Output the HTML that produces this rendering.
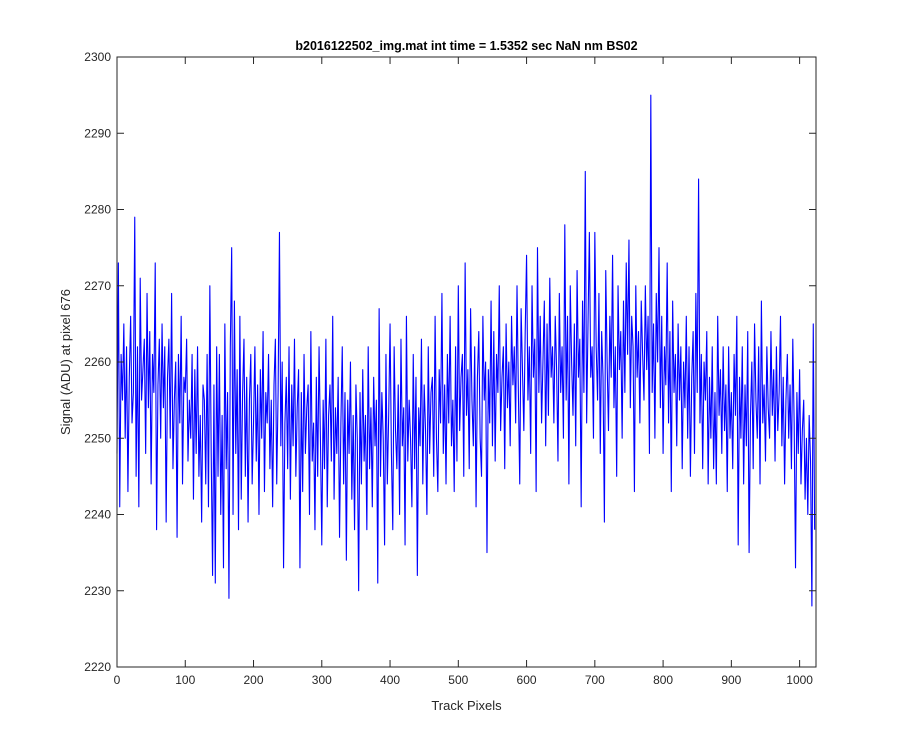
<!DOCTYPE html>
<html><head><meta charset="utf-8"><style>
body{margin:0;background:#fff;}
svg{display:block;font-family:"Liberation Sans",Arial,sans-serif;}
</style></head><body>
<svg id="chart" width="900" height="750" viewBox="0 0 900 750"></svg>
<script>
const xTicks=[0,100,200,300,400,500,600,700,800,900,1000];
const yTicks=[2220,2230,2240,2250,2260,2270,2280,2290,2300];
const xStep=2;
const signal=[
2248,2273,2241,2261,2255,2265,2250,2262,2243,2258,2266,2252,2256,2279,2245,2262,2241,2271,2255,2259,2263,2248,2269,2254,2264,2244,2261,2256,2273,2238,2257,2263,
2250,2265,2254,2262,2239,2258,2263,2250,2269,2246,2255,2260,2237,2261,2252,2266,2244,2258,2256,2263,2247,2255,2250,2261,2242,2259,2248,2262,2245,2253,2239,2257,
2255,2244,2261,2241,2270,2248,2232,2257,2231,2262,2245,2261,2240,2253,2233,2265,2246,2256,2229,2262,2275,2240,2268,2248,2259,2238,2266,2242,2256,2263,2245,2258,
2239,2255,2261,2244,2252,2262,2247,2257,2240,2259,2250,2264,2243,2256,2252,2261,2246,2255,2241,2257,2263,2244,2256,2277,2249,2260,2233,2252,2258,2246,2262,2242,
2257,2249,2263,2245,2254,2259,2233,2256,2243,2261,2248,2254,2257,2240,2264,2247,2252,2238,2258,2245,2262,2250,2236,2255,2246,2263,2241,2253,2257,2247,2266,2242,
2254,2248,2258,2237,2252,2262,2244,2256,2234,2255,2248,2260,2242,2253,2238,2257,2250,2230,2256,2244,2259,2247,2253,2238,2262,2246,2254,2241,2258,2249,2255,2231,
2267,2245,2256,2250,2236,2261,2244,2253,2265,2248,2238,2262,2251,2246,2257,2240,2263,2249,2254,2236,2266,2247,2255,2250,2241,2261,2246,2258,2232,2254,2249,2263,
2244,2257,2251,2240,2262,2248,2256,2258,2245,2266,2250,2243,2259,2252,2269,2248,2257,2244,2261,2252,2266,2249,2255,2243,2262,2247,2270,2251,2258,2261,2245,2273,
2253,2259,2246,2267,2255,2249,2262,2241,2258,2264,2250,2245,2266,2255,2260,2235,2259,2252,2268,2249,2264,2247,2261,2256,2270,2251,2258,2262,2246,2265,2254,2260,
2249,2266,2257,2262,2252,2270,2256,2244,2267,2259,2251,2264,2274,2255,2262,2248,2270,2258,2263,2243,2275,2256,2266,2252,2260,2268,2249,2265,2253,2271,2258,2262,
2252,2266,2259,2247,2269,2256,2262,2250,2278,2255,2266,2244,2270,2260,2253,2265,2249,2272,2258,2263,2241,2268,2256,2285,2252,2265,2277,2258,2262,2250,2277,2262,
2255,2269,2248,2264,2258,2239,2272,2260,2251,2266,2258,2274,2254,2262,2245,2270,2259,2264,2250,2268,2256,2273,2261,2276,2254,2266,2262,2243,2270,2258,2264,2252,
2268,2261,2255,2270,2259,2266,2248,2295,2256,2265,2250,2269,2260,2275,2254,2266,2248,2262,2257,2273,2252,2264,2243,2268,2256,2261,2249,2265,2255,2262,2246,2260,
2254,2266,2250,2262,2245,2258,2264,2248,2269,2256,2284,2252,2261,2246,2260,2255,2264,2244,2258,2250,2262,2246,2256,2244,2266,2253,2259,2248,2262,2251,2257,2243,
2262,2250,2256,2246,2261,2253,2266,2236,2258,2250,2262,2244,2257,2249,2264,2235,2253,2260,2246,2265,2255,2250,2262,2244,2268,2252,2257,2247,2262,2254,2250,2264,
2253,2259,2247,2262,2251,2256,2266,2249,2258,2244,2255,2261,2250,2257,2246,2263,2252,2233,2256,2248,2259,2244,2251,2255,2242,2250,2240,2253,2247,2228,2265,2238
];
const L=117,R=816,T=57,B=667,XMAX=1024,YMIN=2220,YMAX=2300;
const sx=v=>L+(v/XMAX)*(R-L);
const sy=v=>B-(v-YMIN)/(YMAX-YMIN)*(B-T);
const svg=document.getElementById('chart');
const NS='http://www.w3.org/2000/svg';
function mk(t,a,p){const e=document.createElementNS(NS,t);for(const k in a)e.setAttribute(k,a[k]);(p||svg).appendChild(e);return e;}
const bg=mk('rect',{x:L,y:T,width:R-L,height:B-T,fill:'#fff'});


const pts=signal.map((v,i)=>sx(i*xStep).toFixed(2)+','+sy(v).toFixed(2)).join(' ');
const line=mk('polyline',{points:pts,fill:'none',stroke:'#0000ff','stroke-width':1.1,'stroke-linejoin':'round'});


const box=mk('rect',{x:L,y:T,width:R-L,height:B-T,fill:'none',stroke:'#262626','stroke-width':1});


xTicks.forEach(v=>{const x=sx(v);
 mk('line',{x1:x,x2:x,y1:B,y2:B-7,stroke:'#262626'});
 mk('line',{x1:x,x2:x,y1:T,y2:T+7,stroke:'#262626'});
 const t=mk('text',{x:x,y:B+17,'text-anchor':'middle','font-size':12,fill:'#262626'});t.textContent=v;
 
 });
yTicks.forEach(v=>{const y=sy(v);
 mk('line',{x1:L,x2:L+7,y1:y,y2:y,stroke:'#262626'});
 mk('line',{x1:R,x2:R-7,y1:y,y2:y,stroke:'#262626'});
 const t=mk('text',{x:L-6,y:y+4,'text-anchor':'end','font-size':12,fill:'#262626'});t.textContent=v;
 
 });
const xt=mk('text',{x:(L+R)/2,y:710,'text-anchor':'middle','font-size':13,fill:'#262626'});xt.textContent='Track Pixels';


const yt=mk('text',{x:0,y:0,transform:'translate(70,362) rotate(-90)','text-anchor':'middle','font-size':13,fill:'#262626'});yt.textContent='Signal (ADU) at pixel 676';


const tt=mk('text',{x:(L+R)/2,y:50,'text-anchor':'middle','font-size':12.5,'font-weight':'bold',fill:'#000'});tt.textContent='b2016122502_img.mat int time = 1.5352 sec  NaN nm BS02';
tt.setAttribute('xml:space','preserve');


</script>
</body></html>
